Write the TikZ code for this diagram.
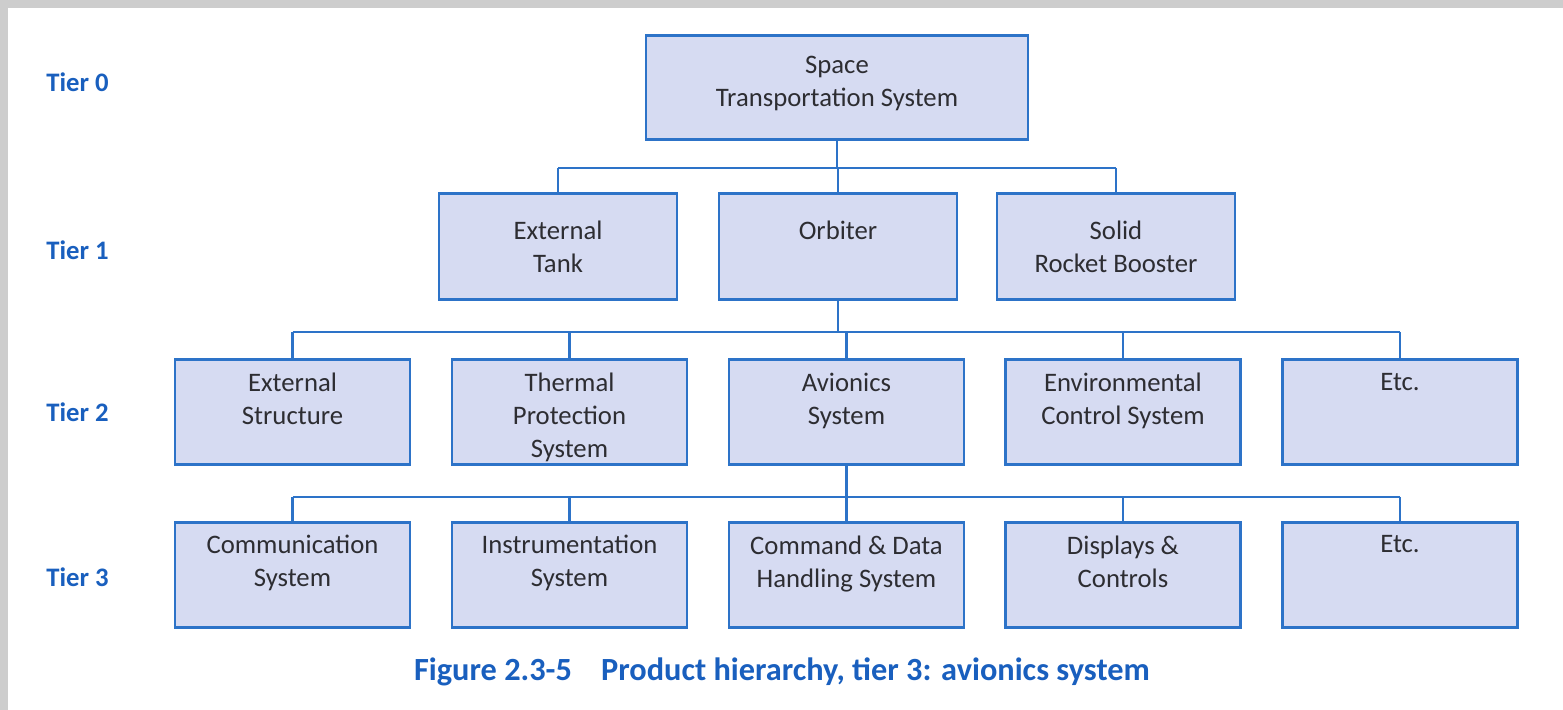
\documentclass[tikz,border=0pt]{standalone}
\usepackage{fontspec}
\setmainfont{Carlito}
\usetikzlibrary{calc}
\definecolor{tierblue}{RGB}{25,95,190}
\definecolor{boxline}{RGB}{45,115,200}
\definecolor{boxfill}{RGB}{214,219,242}
\definecolor{boxtext}{RGB}{45,45,50}
\definecolor{edgegray}{RGB}{205,205,205}
\tikzset{
  tierbox/.style={draw=boxline, line width=0.85pt, fill=boxfill, text=boxtext,
    minimum width=2.38cm, minimum height=1.06cm, align=center,
    font={\fontsize{7.6}{9.4}\selectfont}},
  lowbox/.style={draw=boxline, line width=0.85pt, fill=boxfill, text=boxtext,
    inner xsep=0pt, inner ysep=0.13cm, font={\fontsize{7.6}{9.4}\selectfont}},
  tierlabel/.style={anchor=west, text=tierblue, font={\fontsize{7.6}{9}\selectfont\bfseries}},
  link/.style={draw=boxline, line width=0.8pt}
}
\newcommand{\toptext}[2][2.35cm]{\parbox[t][0.79cm][t]{#1}{\centering #2}}
\begin{document}
\begin{tikzpicture}
	%%%%% FRAME %%%%%
	\useasboundingbox (0,0) rectangle (15.63,7.10);
	\fill[edgegray] (0,7.02) rectangle (15.63,7.10);
	\fill[edgegray] (0,0) rectangle (0.08,7.10);
	
	%%%%% TIER LABELS %%%%%
	\node[tierlabel] (t0) at (0.34,6.28) {Tier 0};
	\node[tierlabel] (t1) at (0.34,4.60) {Tier 1};
	\node[tierlabel] (t2) at (0.34,2.98) {Tier 2};
	\node[tierlabel] (t3) at (0.34,1.33) {Tier 3};
	
	%%%%% TIER 0 and 1 %%%%%
	\node[lowbox, inner ysep=0.125cm] (sts) at (8.37,6.22) {\toptext[3.82cm]{\vspace*{0.08cm}Space\\Transportation System}};
	\node[tierbox] (et) at (5.58,4.635) {External\\Tank};
	\node[tierbox] (orb) at (8.38,4.635) {Orbiter\\\mbox{}};
	\node[tierbox] (srb) at (11.16,4.635) {Solid\\Rocket Booster};
	
	%%%%% TIER 2 %%%%%
	\node[lowbox] (ext) at (2.925,2.975) {\toptext{External\\Structure}};
	\node[lowbox] (tps) at (5.695,2.975) {\toptext{Thermal\\Protection\\System}};
	\node[lowbox] (avi) at (8.465,2.975) {\toptext{Avionics\\System}};
	\node[lowbox] (ecs) at (11.23,2.975) {\toptext{Environmental\\Control System}};
	\node[lowbox] (etc2) at (14.00,2.975) {\toptext{Etc.}};
	
	%%%%% TIER 3 %%%%%
	\node[lowbox] (com) at (2.925,1.35) {\toptext{Communication\\System}};
	\node[lowbox] (ins) at (5.695,1.35) {\toptext{Instrumentation\\System}};
	\node[lowbox] (cdh) at (8.465,1.35) {\toptext{Command \& Data\\Handling System}};
	\node[lowbox] (dsp) at (11.23,1.35) {\toptext{Displays \&\\Controls}};
	\node[lowbox] (etc3) at (14.00,1.35) {\toptext{Etc.}};
	
	%%%%% CONNECTORS %%%%%
	\coordinate (bus1) at (8.37,5.42);
	\coordinate (bus2) at (8.38,3.78);
	\coordinate (bus3) at (8.465,2.13);
	
	\draw[link] (sts.south) -- (bus1);
	\draw[link] (bus1 -| et.north) -- (bus1 -| srb.north);
	\foreach \n in {et,orb,srb}
		\draw[link] (bus1 -| \n.north) -- (\n.north);
	
	\draw[link] (orb.south) -- (bus2);
	\draw[link] (bus2 -| ext.north) -- (bus2 -| etc2.north);
	\foreach \n in {ext,tps,avi,ecs,etc2}
		\draw[link] (bus2 -| \n.north) -- (\n.north);
	
	\draw[link] (avi.south) -- (bus3);
	\draw[link] (bus3 -| com.north) -- (bus3 -| etc3.north);
	\foreach \n in {com,ins,cdh,dsp,etc3}
		\draw[link] (bus3 -| \n.north) -- (\n.north);
	
	%%%%% CAPTION %%%%%
	\node[text=tierblue, font={\fontsize{9.2}{10}\selectfont\bfseries}] (cap) at (7.82,0.38)
		{Figure 2.3-5\hspace{0.9em}Product hierarchy, tier 3: avionics system};
\end{tikzpicture}
\end{document}
